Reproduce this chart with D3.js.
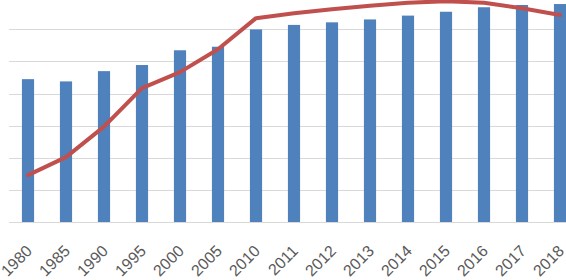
<!DOCTYPE html>
<html lang="en">
    <head>
        <meta charset="utf-8">
        <title>Bars and line</title>
        <script type="text/javascript" src="https://cdnjs.cloudflare.com/ajax/libs/d3/7.8.5/d3.min.js"></script>
        <style>
            body { margin: 0; background: #fff; }
            svg { display: block; }
            .label { font-family: "Liberation Sans", Arial, sans-serif; font-size: 16px; fill: #595959; }
        </style>
    </head>
    <body>
        <div id="chart"></div>
        <script type="text/javascript">
            // categories (years) and the two series
            var years = ["1980","1985","1990","1995","2000","2005","2010","2011","2012","2013","2014","2015","2016","2017","2018"];
            var barValues = [4.45, 4.38, 4.70, 4.89, 5.35, 5.46, 6.00, 6.14, 6.22, 6.31, 6.43, 6.55, 6.69, 6.76, 6.79];
            var lineValues = [1.46, 2.02, 2.97, 4.17, 4.67, 5.38, 6.35, 6.50, 6.63, 6.74, 6.83, 6.88, 6.83, 6.66, 6.45];
            var gridTicks = [0, 1, 2, 3, 4, 5, 6];

            var width = 566, height = 280;
            var left = 9, right = 579, bottom = 222, unit = 32.1;

            var svg = d3.select("#chart").append("svg")
                .attr("width", width)
                .attr("height", height);

            var x = d3.scaleBand()
                .domain(years)
                .range([left, right])
                .paddingInner(0.68)
                .paddingOuter(0.34);

            var y = d3.scaleLinear()
                .domain([0, 7])
                .range([bottom, bottom - 7 * unit]);

            //horizontal gridlines
            svg.selectAll(".grid")
                .data(gridTicks)
                .enter().append("line")
                .attr("x1", left)
                .attr("x2", right)
                .attr("y1", function(d) { return Math.round(y(d)) + 0.5; })
                .attr("y2", function(d) { return Math.round(y(d)) + 0.5; })
                .attr("stroke", "#d9d9d9")
                .attr("stroke-width", 1);

            //bars
            svg.selectAll(".bar")
                .data(barValues)
                .enter().append("rect")
                .attr("x", function(d, i) { return x(years[i]); })
                .attr("y", function(d) { return y(d); })
                .attr("width", x.bandwidth())
                .attr("height", function(d) { return y(0) - y(d); })
                .attr("fill", "#4f81bd");

            //line
            var line = d3.line()
                .x(function(d, i) { return x(years[i]) + x.bandwidth() / 2; })
                .y(function(d) { return y(d); });

            svg.append("path")
                .datum(lineValues)
                .attr("d", line)
                .attr("fill", "none")
                .attr("stroke", "#c0504d")
                .attr("stroke-width", 4)
                .attr("stroke-linejoin", "round")
                .attr("stroke-linecap", "round");

            //rotated year labels
            svg.selectAll(".label")
                .data(years)
                .enter().append("text")
                .attr("class", "label")
                .attr("text-anchor", "end")
                .attr("transform", function(d) {
                    var cx = x(d) + x.bandwidth() / 2 + 5;
                    return "translate(" + cx + "," + 252 + ") rotate(-45)";
                })
                .text(function(d) { return d; });
        </script>
    </body>
</html>
